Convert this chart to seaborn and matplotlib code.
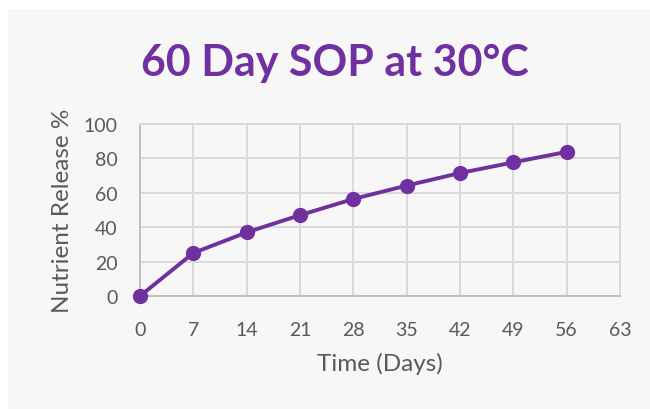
import matplotlib
matplotlib.use("Agg")
import matplotlib.pyplot as plt
from matplotlib.patches import Rectangle
import pandas as pd
import seaborn as sns

# data
days = [0, 7, 14, 21, 28, 35, 42, 49, 56]
release = [0, 25, 37, 47, 56.4, 64.2, 71.5, 77.7, 83.8]
x_ticks = [0, 7, 14, 21, 28, 35, 42, 49, 56, 63]
y_ticks = [0, 20, 40, 60, 80, 100]

purple = "#7030A0"
panel = "#F7F7F7"
grid = "#D9D9D9"
text_grey = "#595959"

sns.set_theme(style="whitegrid")
plt.rcParams["font.family"] = ["Lato", "DejaVu Sans"]

df = pd.DataFrame({"Time (Days)": days, "Nutrient Release %": release})

fig = plt.figure(figsize=(6.5, 4.1), dpi=100, facecolor="white")
fig.patches.append(Rectangle((8 / 650, 0), 1, 1 - 10 / 410, transform=fig.transFigure,
                             facecolor=panel, edgecolor="none", zorder=-10))
ax = fig.add_axes([140 / 650, 113 / 410, 480 / 650, 172 / 410])
ax.set_zorder(5)
ax.set_facecolor(panel)

sns.lineplot(data=df, x="Time (Days)", y="Nutrient Release %", ax=ax, color=purple,
             linewidth=2.8, marker="o", markersize=11, markeredgewidth=0, clip_on=False, zorder=3)

ax.set_xlim(0, 63)
ax.set_ylim(0, 100)
ax.set_xticks(x_ticks)
ax.set_yticks(y_ticks)
ax.grid(True, color=grid, linewidth=1.4)
for s in ax.spines.values():
    s.set_color(grid)
    s.set_linewidth(1.4)
ax.spines["left"].set_color("#BFBFBF")
ax.spines["bottom"].set_color("#BFBFBF")
ax.tick_params(axis="x", length=0, labelsize=14, colors=text_grey, pad=18)
ax.tick_params(axis="y", length=0, labelsize=14, colors=text_grey, pad=16)
ax.set_xlabel("Time (Days)", fontsize=17.5, color=text_grey, labelpad=10)
ax.set_ylabel("Nutrient Release %", fontsize=17.5, color=text_grey, labelpad=8)

fig.text(335 / 650, 1 - 63 / 410, "60 Day SOP at 30°C", ha="center", va="center",
         fontsize=31, fontweight="bold", color=purple, zorder=6)

fig.savefig("out.png", dpi=100, facecolor="white")
